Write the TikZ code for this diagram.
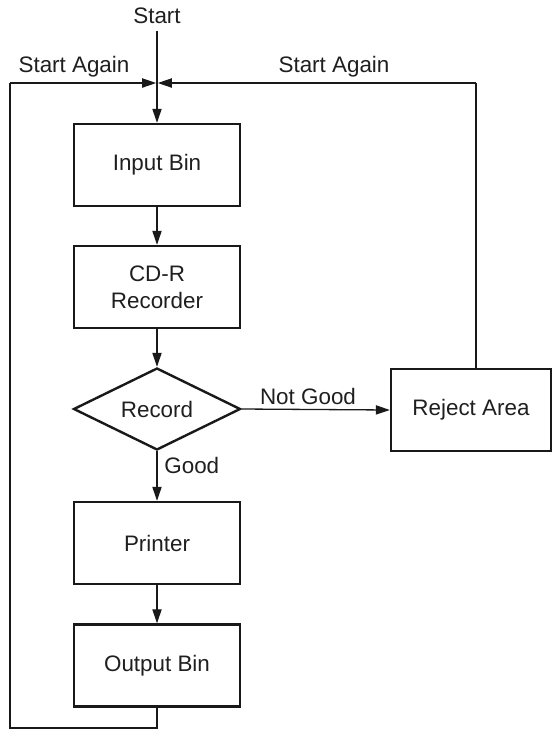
\documentclass[tikz,border=0pt]{standalone}
\usepackage{fontspec}
\setmainfont{Liberation Sans}
\usetikzlibrary{shapes.geometric,arrows.meta}
\begin{document}
\begin{tikzpicture}[x=0.5pt,y=-0.5pt,
  font=\fontsize{11.2pt}{13.4pt}\selectfont,
  every node/.style={text=black!88},
  box/.style={draw=black!90,line width=1.2pt,rectangle,minimum width=83pt,minimum height=41pt,inner sep=0pt,align=center},
  dia/.style={draw=black!90,line width=1.2pt,diamond,shape aspect=2,minimum width=83.5pt,minimum height=41pt,inner sep=0pt},
  conn/.style={draw=black!90,line width=0.65pt},
  arr/.style={conn,-{Triangle[length=7pt,width=4.6pt]}},
  lbl/.style={inner sep=0pt}]
\useasboundingbox (0,0) rectangle (553,730);
\node[box] (inbin) at (157,165) {Input Bin};
\node[box] (cdr) at (157,287) {CD-R\\Recorder};
\node[dia] (rec) at (157,409) {Record};
\node[box] (printer) at (157,543) {Printer};
\node[box] (outbin) at (157,665.5) {Output Bin};
\node[box,minimum width=80pt] (reject) at (471,410) {Reject Area};

\node[lbl] (start) at (157,16) {Start};
\coordinate (stop) at (157,31);
\coordinate (join) at (157,83);
\coordinate (lc) at (10,83);
\coordinate (bot) at (157,728);
\coordinate (rc) at (476,83);

\draw[arr] (stop) -- (inbin.north);
\draw[arr] (inbin.south) -- (cdr.north);
\draw[arr] (cdr.south) -- (rec.north);
\draw[arr] (rec.south) -- (printer.north);
\draw[arr] (printer.south) -- (outbin.north);
\draw[arr] (rec.east) -- (reject.west);
\draw[conn] (outbin.south) -- (bot) -| (lc);
\draw[arr] (lc) -- ([xshift=-0.4pt]join);
\draw[conn] (reject.north -| rc) -- (rc);
\draw[arr] (rc) -- ([xshift=0.4pt]join);

\node[lbl] (sal) at (74,67) {Start Again};
\node[lbl] (sar) at (334,67) {Start Again};
\node[lbl] (ng) at (308,396) {Not Good};
\node[lbl,anchor=west] (gd) at (164,465) {Good};
\end{tikzpicture}
\end{document}
